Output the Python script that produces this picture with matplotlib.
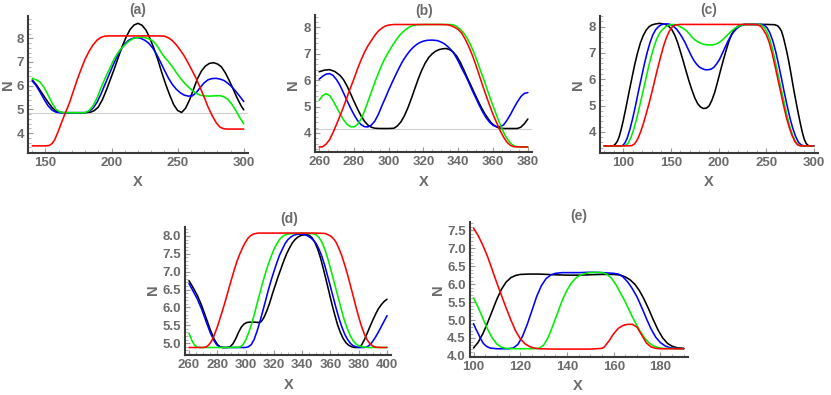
import matplotlib
matplotlib.use("Agg")
import matplotlib.pyplot as plt
from matplotlib.ticker import MultipleLocator, FormatStrFormatter

# ---------------- data: panel (a) ----------------
a_x_black = [140,143,146,149,152,155,158,161,165,170,175,180,184,187,190,193,196,199,202,205,208,211,214,217,220,223,226,229,232,235,238,241,244,247,250,253,256,259,262,265,268,271,274,277,280,283,286,289,292,295,298,300]
a_n_black = [6.24,6.05,5.8,5.55,5.3,5.08,4.93,4.87,4.86,4.86,4.86,4.86,4.88,4.95,5.1,5.4,5.8,6.25,6.7,7.18,7.65,8.05,8.37,8.56,8.63,8.55,8.35,8.0,7.58,7.1,6.55,6.05,5.6,5.2,4.95,4.87,5.05,5.4,5.85,6.3,6.62,6.83,6.94,6.97,6.92,6.8,6.55,6.22,5.85,5.48,5.15,4.98]
a_x_blue = [140,143,146,149,152,155,158,161,165,170,175,180,183,186,189,192,195,198,201,204,207,210,213,216,219,222,225,228,231,234,237,240,243,246,249,252,255,258,261,264,267,270,273,276,279,282,285,288,291,294,297,300]
a_n_blue = [6.2,6.0,5.72,5.42,5.15,4.97,4.88,4.86,4.86,4.86,4.86,4.86,4.92,5.05,5.3,5.65,6.05,6.45,6.85,7.22,7.52,7.76,7.92,8.0,8.03,8.0,7.92,7.8,7.6,7.33,7.0,6.65,6.32,6.05,5.85,5.7,5.6,5.56,5.57,5.7,5.92,6.12,6.25,6.3,6.31,6.28,6.22,6.1,5.95,5.76,5.55,5.33]
a_x_green = [140,143,146,149,152,155,158,161,164,170,175,180,183,186,189,192,195,198,201,204,207,210,213,216,219,222,225,228,231,234,237,240,243,246,249,252,255,258,261,264,267,270,274,278,282,285,288,291,294,297,300]
a_n_green = [6.31,6.25,6.15,5.92,5.6,5.27,5.0,4.89,4.86,4.86,4.86,4.86,4.95,5.15,5.48,5.9,6.3,6.65,7.02,7.32,7.55,7.72,7.87,7.98,8.03,8.04,8.03,7.98,7.9,7.72,7.45,7.2,7.02,6.8,6.55,6.33,6.12,5.95,5.8,5.68,5.6,5.57,5.56,5.57,5.58,5.53,5.42,5.22,4.95,4.65,4.39]
a_x_red = [140,145,150,153,155,157,159.5,162,165,168,171,174,177,180,183,186,189,192,195,198,205,215,225,235,240,243,246,249,252,255,258,261,264,267,270,273,276,279,282,285,288,300]
a_n_red = [3.46,3.46,3.46,3.48,3.56,3.72,4.05,4.42,4.85,5.25,5.75,6.25,6.7,7.12,7.45,7.72,7.92,8.04,8.09,8.1,8.1,8.1,8.1,8.1,8.09,8.02,7.9,7.72,7.5,7.25,6.95,6.63,6.3,5.92,5.52,5.1,4.75,4.45,4.25,4.18,4.17,4.17]
a_ref = 4.85

# ---------------- data: panel (b) ----------------
b_x_red = [260,262,264,266,268,270,272,274,276,278,280,282,284,286,288,290,292,294,296,298,300,303,310,320,330,334,336,338,340,342,344,346,348,350,352,354,356,358,360,362,364,366,368,370,372,376,380]
b_n_red = [3.47,3.48,3.58,3.75,4.02,4.33,4.65,4.99,5.35,5.71,6.05,6.42,6.75,7.05,7.3,7.5,7.7,7.86,7.97,8.05,8.09,8.11,8.11,8.11,8.11,8.1,8.06,8.0,7.92,7.78,7.55,7.28,6.96,6.6,6.2,5.8,5.42,5.05,4.7,4.4,4.1,3.85,3.65,3.53,3.48,3.47,3.47]
b_x_green = [260,262,264,266,268,270,272,274,276,278,280,282,284,286,288,290,292,294,296,298,300,302,304,306,308,310,312,314,316,320,330,335,337,339,341,343,345,347,349,351,353,355,357,359,361,363,365,367,369,371,373,376,380]
b_n_green = [5.24,5.42,5.49,5.42,5.22,4.98,4.73,4.5,4.33,4.24,4.23,4.32,4.52,4.82,5.18,5.55,5.92,6.25,6.58,6.85,7.08,7.3,7.5,7.68,7.82,7.93,8.02,8.07,8.1,8.11,8.11,8.11,8.1,8.04,7.94,7.8,7.6,7.35,7.05,6.7,6.32,5.97,5.58,5.2,4.85,4.5,4.17,3.9,3.7,3.56,3.49,3.47,3.47]
b_x_blue = [260,262,264,266,268,270,272,274,276,278,280,282,284,286,288,290,292,294,296,298,300,302,304,306,308,310,312,314,316,318,320,322,325,328,330,332,334,336,338,340,342,344,346,348,350,352,354,356,358,360,362,364,366,368,370,372,374,376,378,380]
b_n_blue = [6.04,6.15,6.23,6.25,6.18,6.02,5.8,5.52,5.23,4.95,4.7,4.48,4.32,4.24,4.23,4.3,4.45,4.7,5.02,5.32,5.63,5.92,6.2,6.47,6.72,6.92,7.1,7.24,7.35,7.43,7.48,7.51,7.52,7.5,7.45,7.38,7.27,7.14,6.96,6.72,6.45,6.2,5.92,5.62,5.34,5.06,4.8,4.58,4.41,4.29,4.24,4.24,4.3,4.48,4.7,4.95,5.18,5.38,5.5,5.53]
b_x_black = [260,263,266,269,272,274,276,278,280,282,284,286,288,290,292,295,300,303,305,307,309,311,313,315,317,319,321,323,325,327,329,331,333,335,337,339,341,343,345,347,349,351,353,355,357,359,361,363,366,370,374,376,378,380]
b_n_black = [6.32,6.38,6.4,6.33,6.18,6.02,5.78,5.5,5.2,4.92,4.66,4.45,4.3,4.22,4.18,4.17,4.17,4.18,4.27,4.42,4.65,4.95,5.3,5.68,6.05,6.38,6.65,6.86,7.0,7.1,7.16,7.19,7.2,7.16,7.07,6.92,6.7,6.42,6.12,5.84,5.55,5.27,5.0,4.76,4.56,4.38,4.27,4.2,4.17,4.17,4.17,4.22,4.35,4.53]
b_ref = 4.17

# ---------------- data: panel (c) ----------------
c_x_red = [80,90,100,105,109,112,115,118,121,124,127,130,133,136,139,142,145,148,151,154,157,160,180,200,220,238,241,244,247,250,253,256,259,262,265,268,271,274,277,280,283,286,290,300]
c_n_red = [3.47,3.47,3.47,3.47,3.48,3.55,3.72,3.98,4.3,4.68,5.07,5.5,5.95,6.4,6.82,7.22,7.55,7.8,7.97,8.05,8.07,8.08,8.08,8.08,8.08,8.08,8.06,8.02,7.88,7.7,7.42,7.02,6.55,6.05,5.55,5.05,4.58,4.2,3.88,3.64,3.51,3.47,3.47,3.47]
c_x_green = [80,95,100,102,105,108,111,114,117,120,123,126,129,132,135,138,141,144,147,150,154,157,160,163,166,169,172,175,178,181,184,187,190,193,196,199,202,205,208,211,214,217,220,223,226,230,242,245,248,251,254,257,260,263,266,269,272,275,278,281,284,287,300]
c_n_green = [3.47,3.47,3.47,3.48,3.57,3.78,4.1,4.5,4.95,5.42,5.9,6.38,6.82,7.2,7.52,7.74,7.88,7.98,8.04,8.07,8.08,8.05,7.99,7.93,7.85,7.74,7.6,7.5,7.43,7.37,7.33,7.31,7.3,7.3,7.32,7.36,7.43,7.52,7.63,7.74,7.84,7.93,7.99,8.04,8.07,8.08,8.08,8.05,7.96,7.78,7.5,7.1,6.6,6.08,5.58,5.1,4.6,4.18,3.86,3.62,3.5,3.47,3.47]
c_x_blue = [80,98,100,102,104,107,110,113,116,119,122,125,128,131,134,137,140,144,147,150,153,156,159,162,165,168,171,174,177,180,183,186,189,192,195,198,201,204,207,210,213,216,219,222,225,228,245,248,251,254,257,260,263,266,269,272,275,278,281,284,287,290,300]
c_n_blue = [3.47,3.47,3.5,3.6,3.75,4.1,4.53,5.02,5.55,6.05,6.55,7.0,7.38,7.68,7.88,8.0,8.07,8.1,8.1,8.07,8.0,7.9,7.75,7.58,7.38,7.15,6.92,6.72,6.57,6.46,6.4,6.36,6.36,6.38,6.45,6.58,6.75,6.98,7.22,7.45,7.65,7.8,7.92,8.0,8.05,8.08,8.08,8.05,7.95,7.75,7.45,7.05,6.56,6.04,5.5,5.0,4.52,4.13,3.82,3.6,3.5,3.47,3.47]
c_x_black = [80,88,90,92,94,96,98,100,103,106,109,112,115,118,121,124,127,130,134,138,142,145,148,151,154,157,160,163,166,169,172,175,178,181,184,187,190,193,196,199,202,205,208,211,214,217,220,223,226,250,259,262,264,266,268,270,272,274,276,278,280,282,284,286,288,290,292,294,296,300]
c_n_black = [3.47,3.47,3.48,3.55,3.66,3.85,4.12,4.43,4.95,5.5,6.03,6.55,7.0,7.38,7.66,7.86,7.99,8.06,8.1,8.12,8.1,8.07,8.0,7.88,7.68,7.4,7.05,6.68,6.3,5.93,5.6,5.3,5.08,4.95,4.89,4.9,4.98,5.2,5.5,5.9,6.32,6.72,7.1,7.45,7.72,7.9,8.0,8.05,8.08,8.08,8.07,8.03,7.95,7.83,7.6,7.3,6.98,6.62,6.22,5.8,5.4,5.02,4.65,4.3,3.98,3.72,3.56,3.49,3.47,3.47]

# ---------------- data: panel (d) ----------------
d_x_red = [260,270,272,274,276,278,280,282,284,286,288,290,292,294,296,298,300,302,304,306,309,320,330,340,350,356,358,360,362,364,366,368,370,372,374,376,378,380,382,384,386,388,390,392,395,400]
d_n_red = [4.88,4.88,4.89,4.95,5.06,5.24,5.45,5.7,5.95,6.22,6.5,6.78,7.05,7.3,7.5,7.68,7.83,7.95,8.02,8.06,8.08,8.08,8.08,8.08,8.08,8.07,8.04,8.0,7.93,7.82,7.65,7.45,7.2,6.93,6.63,6.33,6.02,5.73,5.47,5.25,5.09,4.98,4.92,4.89,4.88,4.88]
d_x_green = [260,262,264,266,268,280,290,296,298,300,302,304,306,308,310,312,314,316,318,320,322,324,326,328,331,335,340,345,348,350,352,354,356,358,360,362,364,366,368,370,372,374,376,378,380,382,384,387,400]
d_n_green = [5.28,5.08,4.94,4.89,4.88,4.88,4.88,4.89,4.95,5.08,5.27,5.5,5.78,6.08,6.38,6.68,6.95,7.2,7.42,7.62,7.77,7.9,7.98,8.03,8.06,8.07,8.08,8.07,8.06,8.03,7.95,7.82,7.63,7.38,7.1,6.8,6.5,6.2,5.9,5.62,5.4,5.21,5.07,4.98,4.93,4.9,4.89,4.88,4.88]
d_x_blue = [260,263,266,269,272,275,278,280,282,284,290,296,300,302,304,306,308,310,312,314,316,318,320,322,324,326,328,330,332,334,337,340,343,346,348,350,352,354,356,358,360,362,364,366,368,370,372,374,376,378,380,384,386,388,390,392,394,396,398,400]
d_n_blue = [6.67,6.45,6.23,5.95,5.62,5.3,5.05,4.94,4.89,4.88,4.88,4.88,4.88,4.9,4.96,5.1,5.32,5.58,5.87,6.17,6.47,6.75,7.0,7.24,7.46,7.63,7.79,7.9,7.97,8.02,8.05,8.05,8.02,7.95,7.88,7.78,7.62,7.42,7.17,6.88,6.58,6.28,5.98,5.7,5.46,5.26,5.11,5.0,4.93,4.9,4.88,4.88,4.9,4.96,5.06,5.18,5.32,5.47,5.62,5.77]
d_x_black = [260,263,266,269,272,275,278,280,282,284,287,289,291,293,295,297,299,301,303,306,309,311,313,315,317,319,321,323,325,327,329,331,333,335,337,339,341,343,345,347,349,351,353,355,357,359,361,363,365,367,369,371,373,375,377,380,382,384,386,388,390,392,394,396,398,400]
d_n_black = [6.75,6.55,6.33,6.05,5.72,5.38,5.1,4.97,4.9,4.88,4.88,4.9,4.98,5.12,5.3,5.45,5.54,5.58,5.59,5.59,5.58,5.6,5.72,5.9,6.12,6.38,6.62,6.86,7.08,7.3,7.5,7.66,7.8,7.9,7.97,8.01,8.03,8.04,8.02,7.95,7.82,7.63,7.38,7.08,6.76,6.43,6.1,5.8,5.52,5.3,5.13,5.01,4.94,4.9,4.88,4.88,4.95,5.1,5.28,5.47,5.65,5.82,5.97,6.08,6.17,6.23]

# ---------------- data: panel (e) ----------------
e_x_red = [100,102,104,106,108,110,112,114,116,118,120,122,124,126,128,135,145,150,155,156,158,160,162,164,166,168,170,172,174,176,178,180,190]
e_n_red = [7.56,7.35,7.08,6.77,6.4,6.03,5.68,5.33,5.0,4.7,4.48,4.34,4.26,4.22,4.2,4.19,4.19,4.19,4.21,4.25,4.42,4.62,4.77,4.85,4.88,4.88,4.8,4.58,4.36,4.25,4.21,4.2,4.2]
e_x_black = [100,102,104,106,108,110,112,114,116,118,120,124,128,135,140,145,150,155,160,163,165,167,169,171,173,175,177,179,181,183,185,187,190]
e_n_black = [4.22,4.38,4.62,4.92,5.25,5.58,5.86,6.06,6.18,6.24,6.27,6.28,6.28,6.26,6.25,6.25,6.26,6.27,6.27,6.25,6.2,6.12,6.0,5.82,5.58,5.3,5.0,4.72,4.5,4.35,4.27,4.23,4.21]
e_x_blue = [100,101,102.2,103,104.3,105.5,107,110,115,117,119,121,123,125,127,129,131,133,135,138,145,150,155,160,162,164,166,168,170,172,174,176,178,180,182,184,186,190]
e_n_blue = [4.9,4.75,4.6,4.48,4.34,4.27,4.22,4.2,4.2,4.22,4.32,4.55,4.88,5.26,5.65,5.95,6.15,6.25,6.3,6.32,6.32,6.33,6.32,6.3,6.28,6.2,6.06,5.87,5.64,5.35,5.04,4.75,4.52,4.37,4.28,4.23,4.21,4.2]
e_x_green = [100,102,104,106,108,110,112,114,118,125,128,130,132,134,136,138,140,142,144,146,148,150,153,155,157,159,161,163,165,167,169,171,173,175,177,179,181,190]
e_n_green = [5.62,5.35,5.05,4.75,4.5,4.33,4.24,4.21,4.2,4.2,4.21,4.3,4.52,4.85,5.2,5.55,5.83,6.04,6.18,6.26,6.3,6.32,6.33,6.32,6.28,6.17,5.98,5.74,5.5,5.22,4.96,4.72,4.52,4.37,4.28,4.23,4.21,4.2]

W, H = 831, 395
TXT = '#6b6b6b'
AX = '#3a3a3a'
FONT = 'Liberation Sans'

fig = plt.figure(figsize=(W / 100, H / 100), dpi=100)


def make_ax(l, r, t, b):
    return fig.add_axes([l / W, 1 - b / H, (r - l) / W, (b - t) / H])


def style(ax, xlim, ylim, xmaj, xmin, ymaj, ymin, yfmt=None):
    ax.set_xlim(*xlim)
    ax.set_ylim(*ylim)
    for s in ('top', 'right'):
        ax.spines[s].set_visible(False)
    for s in ('left', 'bottom'):
        ax.spines[s].set_color(AX)
        ax.spines[s].set_linewidth(1.5)
    ax.xaxis.set_major_locator(MultipleLocator(xmaj))
    ax.xaxis.set_minor_locator(MultipleLocator(xmin))
    ax.yaxis.set_major_locator(MultipleLocator(ymaj))
    ax.yaxis.set_minor_locator(MultipleLocator(ymin))
    if yfmt:
        ax.yaxis.set_major_formatter(FormatStrFormatter(yfmt))
    ax.tick_params(which='major', direction='in', length=3.5, width=0.8,
                   color='#999999', labelsize=9.5, labelcolor=TXT, pad=3)
    ax.tick_params(which='minor', direction='in', length=2, width=0.6,
                   color='#aaaaaa')
    for lab in ax.get_xticklabels() + ax.get_yticklabels():
        lab.set_fontweight('bold')
        lab.set_fontfamily(FONT)
    ax.patch.set_alpha(0)


def draw(ax, series):
    for xs, ys, c in series:
        ax.plot(xs, ys, color=c, lw=1.15, solid_capstyle='round', clip_on=False)


def label(x, y, s, rot=0, size=10.5):
    fig.text(x / W, 1 - y / H, s, ha='center', va='center', rotation=rot,
             color=TXT, fontsize=size, fontweight='bold', family=FONT)


# (a)
ax = make_ax(28, 248, 16, 153)
ax.axhline(a_ref, color='#d0d0d0', lw=0.8)
draw(ax, [(a_x_black, a_n_black, 'black'), (a_x_blue, a_n_blue, 'blue'),
          (a_x_green, a_n_green, '#00ee00'), (a_x_red, a_n_red, 'red')])
style(ax, (136.8, 303.2), (3.16, 8.94), 50, 10, 1, 0.2)
label(138, 10, '(a)', size=10)
label(138, 182, 'X')
label(8, 85, 'N', rot=90)

# (b)
ax = make_ax(315, 532, 15, 152)
ax.axhline(b_ref, color='#d0d0d0', lw=0.8)
draw(ax, [(b_x_black, b_n_black, 'black'), (b_x_blue, b_n_blue, 'blue'),
          (b_x_green, b_n_green, '#00ee00'), (b_x_red, b_n_red, 'red')])
style(ax, (257.6, 382.4), (3.28, 8.47), 20, 5, 1, 0.2)
label(424, 11, '(b)', size=10)
label(424, 182, 'X')
label(293, 85, 'N', rot=90)

# (c)
ax = make_ax(600, 818, 16, 153)
draw(ax, [(c_x_black, c_n_black, 'black'), (c_x_blue, c_n_blue, 'blue'),
          (c_x_green, c_n_green, '#00ee00'), (c_x_red, c_n_red, 'red')])
style(ax, (75.6, 304.4), (3.2, 8.4), 50, 10, 1, 0.2)
label(709, 10, '(c)', size=10)
label(709, 182, 'X')
label(578, 85, 'N', rot=90)

# (d)
ax = make_ax(185, 391, 227, 355)
draw(ax, [(d_x_black, d_n_black, 'black'), (d_x_blue, d_n_blue, 'blue'),
          (d_x_green, d_n_green, '#00ee00'), (d_x_red, d_n_red, 'red')])
style(ax, (257.2, 402.8), (4.67, 8.25), 20, 5, 0.5, 0.1, '%.1f')
label(289, 219, '(d)', size=10)
label(289, 385, 'X')
label(153, 290, 'N', rot=90)

# (e)
ax = make_ax(470, 688, 222, 357)
draw(ax, [(e_x_black, e_n_black, 'black'), (e_x_blue, e_n_blue, 'blue'),
          (e_x_green, e_n_green, '#00ee00'), (e_x_red, e_n_red, 'red')])
style(ax, (98.5, 191.8), (3.97, 7.73), 20, 5, 0.5, 0.1, '%.1f')
label(579, 216, '(e)', size=10)
label(578, 386, 'X')
label(438, 290, 'N', rot=90)

fig.savefig('out.png', dpi=100)
